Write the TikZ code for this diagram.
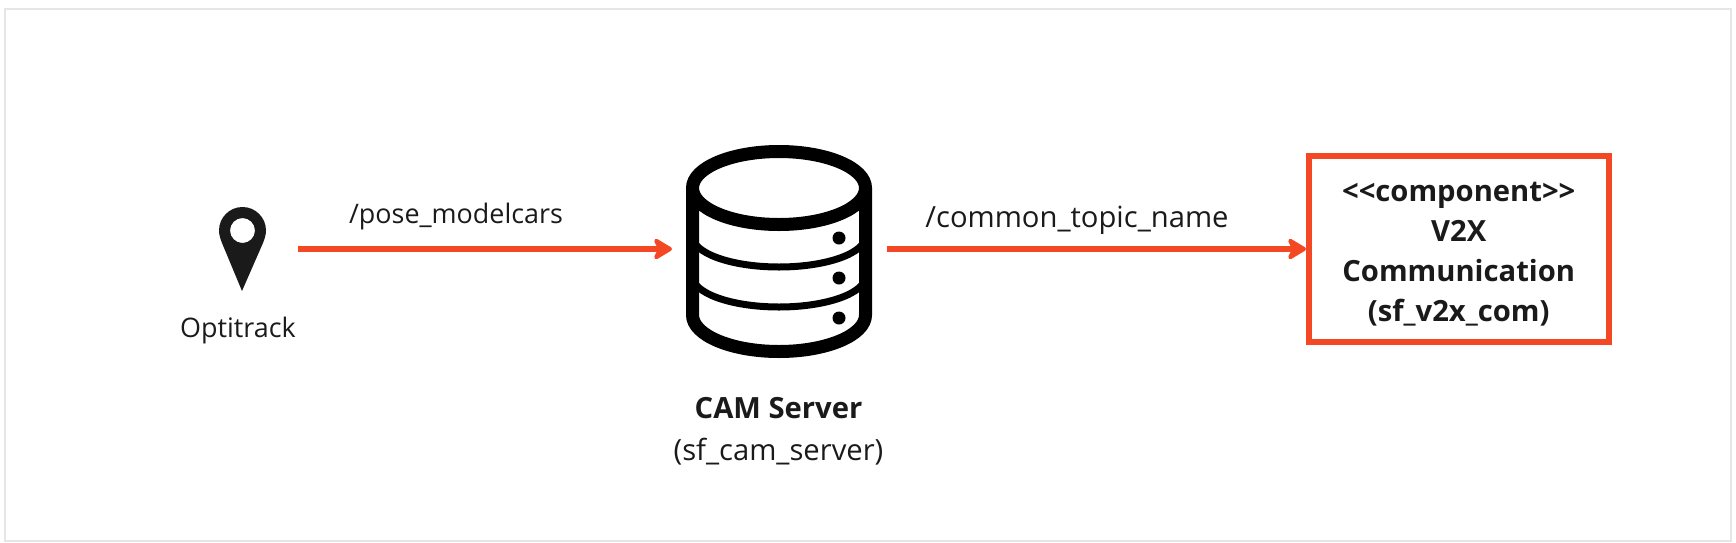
\documentclass[tikz,border=0pt]{standalone}
\usepackage{fontspec}
\setmainfont{Open Sans}
\usetikzlibrary{arrows.meta}
\definecolor{flow}{HTML}{F44723}
\definecolor{ink}{HTML}{1A1A1A}
\definecolor{frame}{HTML}{E6E6E6}
\tikzset{
  x=0.5pt,y=-0.5pt,
  anchorbox/.style={inner sep=0pt,outer sep=0pt,minimum width=#1},
  flowline/.style={draw=flow,line width=3pt,-{Stealth[length=11pt,width=13pt,inset=3pt,round]}},
  label/.style={font=\fontsize{13.45}{16}\selectfont,text=ink,inner sep=0pt},
  biglabel/.style={font=\fontsize{14.6}{17}\selectfont,text=ink,inner sep=0pt},
  dbline/.style={draw=black,line width=6.5pt},
}
\begin{document}
\begin{tikzpicture}
\useasboundingbox (0,0) rectangle (1736,542);
\draw[frame,line width=1pt] (5,9) rectangle (1731,541);
% pin
\fill[ink,even odd rule] (242,291) -- (222,243)
  .. controls (220,238) and (219,234) .. (219,230.5)
  arc[start angle=180,end angle=360,radius=23.5]
  .. controls (266,234) and (265,238) .. (263,243) -- cycle
  (242.5,230.5) circle [radius=12.5];
\node[label,anchor=center] (opt) at (238,331) {Optitrack};
\coordinate (pinout) at (298,249);
% database
\draw[dbline,fill=white] (692.5,188) -- (692.5,315) arc[start angle=180,end angle=0,x radius=86.5,y radius=36.5] -- (865.5,188);
\draw[dbline,fill=white] (779,188) ellipse [x radius=86.5,y radius=36.5];
\draw[black,line width=3.5pt] (692.5,236) arc[start angle=180,end angle=0,x radius=86.5,y radius=31];
\draw[black,line width=3.5pt] (692.5,276) arc[start angle=180,end angle=0,x radius=86.5,y radius=31];
\fill[black] (839,238) circle [radius=6.5] (839,278) circle [radius=6.5] (839,318) circle [radius=6.5];
\node[anchorbox=186pt/2,minimum height=213pt/2] (db) at (779,249) {};
\node[biglabel,font=\fontsize{14.6}{17}\selectfont\bfseries,anchor=center] (camt) at (778.5,408) {CAM Server};
\node[biglabel,anchor=center] (cams) at (778.5,452) {(sf\_cam\_server)};
% component
\node[draw=flow,line width=3pt,fill=white,minimum width=149.75pt,minimum height=93.15pt,inner sep=0pt,align=center] (comp) at (1458.75,249)
 {};
\node[biglabel,font=\fontsize{14.6}{20.1}\selectfont\bfseries,align=center,text=ink] (comptxt) at (1458.75,254)
 {<{}<component>{}>\\V2X\\Communication\\(sf\_v2x\_com)};
% connectors
\path[flowline] (pinout) -- ([xshift=-7pt]db.west);
\path[flowline] ([xshift=7.5pt]db.east) -- (comp.west);
\node[label,anchor=center] (l1) at (456,217) {/pose\_modelcars};
\node[biglabel,anchor=center] (l2) at (1077,220) {/common\_topic\_name};
\end{tikzpicture}
\end{document}
